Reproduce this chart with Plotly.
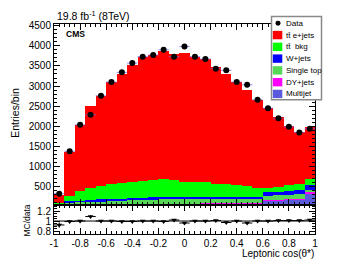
import numpy as np
import plotly.graph_objects as go

# ---------------- data ----------------
bin_edges = np.linspace(-1.0, 1.0, 26)
centers = 0.5 * (bin_edges[:-1] + bin_edges[1:])
bin_width = 0.08

data = [330, 1380, 2040, 2290, 2760, 3100, 3340, 3570, 3730, 3770, 3900, 3730, 3980,
        3730, 3670, 3430, 3390, 3100, 3030, 2660, 2450, 2200, 1990, 1850, 1940]
multijet = [70, 70, 70, 72, 72, 74, 74, 75, 75, 76, 76, 77, 77,
            78, 80, 82, 85, 88, 92, 95, 160, 170, 180, 190, 340]
dyjets = [3, 5, 5, 5, 6, 6, 6, 7, 7, 7, 8, 8, 8,
          8, 8, 9, 9, 10, 10, 10, 15, 15, 18, 20, 25]
singletop = [10, 40, 50, 60, 70, 80, 85, 90, 95, 100, 105, 110, 110,
             110, 110, 108, 105, 105, 100, 100, 110, 110, 110, 110, 60]
wjets = [10, 30, 35, 40, 40, 45, 45, 50, 50, 55, 55, 55, 55,
         55, 55, 55, 55, 55, 55, 55, 80, 85, 90, 95, 125]
ttbkg = [15, 122, 248, 297, 344, 368, 388, 401, 412, 426, 453, 414, 373,
         372, 357, 326, 306, 282, 263, 220, 115, 120, 142, 145, 150]
ttejets = [196, 1099, 1632, 2022, 2228, 2527, 2709, 2911, 3091, 3106, 3164, 3141, 3198,
           3107, 3060, 2884, 2728, 2560, 2389, 2180, 1970, 1722, 1470, 1309, 1279]

x_tickvals = [-1, -0.8, -0.6, -0.4, -0.2, 0, 0.2, 0.4, 0.6, 0.8, 1]
x_ticktext = ["-1", "-0.8", "-0.6", "-0.4", "-0.2", "0", "0.2", "0.4", "0.6", "0.8", "1"]
y_tickvals = [500, 1000, 1500, 2000, 2500, 3000, 3500, 4000, 4500]
r_tickvals = [0.8, 1.0, 1.2]
r_ticktext = ["0.8", "1", "1.2"]

legend_labels = ["Data", "tt\u0304 e+jets", "tt\u0304  bkg", "W+jets", "Single top", "DY+jets", "Multijet"]

# ---------------- styles ----------------
FONT = "Liberation Sans, Arial, Helvetica, sans-serif"
C_TTE = "#ff0000"
C_TTB = "#00ff00"
C_W = "#0000ff"
C_ST = "#55d855"
C_DY = "#ff00ff"
C_MJ = "#5a5adc"

W, H = 349, 262
L, R, T, B = 54, 34, 24, 27.5
PW, PH = W - L - R, H - T - B
def px(xpix):
    return (xpix - L) / PW
def py(ypix):
    return (H - B - ypix) / PH

split = (234.5 - 205) / PH

fig = go.Figure()

stack = [("Multijet", multijet, C_MJ), ("DY+jets", dyjets, C_DY), ("Single top", singletop, C_ST),
         ("W+jets", wjets, C_W), ("tt bkg", ttbkg, C_TTB), ("tt e+jets", ttejets, C_TTE)]
for name, vals, col in stack:
    fig.add_trace(go.Bar(x=centers, y=vals, width=bin_width, name=name,
                         marker=dict(color=col, line=dict(width=0)),
                         xaxis="x", yaxis="y", showlegend=False))

data_arr = np.array(data, dtype=float)
fig.add_trace(go.Scatter(x=centers, y=data, mode="markers", name="Data",
                         marker=dict(color="black", size=6, symbol="circle"),
                         error_x=dict(type="constant", value=bin_width / 2, thickness=1, width=0,
                                      color="rgba(110,110,240,0.75)"),
                         error_y=dict(type="data", array=np.sqrt(data_arr), thickness=1, width=0,
                                      color="black"),
                         xaxis="x", yaxis="y", showlegend=False))

mc_total = np.sum([np.array(v, dtype=float) for _, v, _ in stack], axis=0)
ratio = mc_total / data_arr
ratio_err = ratio * np.sqrt(1.0 / data_arr)
fig.add_trace(go.Scatter(x=centers, y=ratio, mode="markers", name="MC/data",
                         marker=dict(color="black", size=5, symbol="triangle-down"),
                         error_x=dict(type="constant", value=bin_width / 2, thickness=1, width=0, color="black"),
                         error_y=dict(type="data", array=ratio_err, thickness=1, width=0, color="black"),
                         xaxis="x2", yaxis="y2", showlegend=False))

axis_common = dict(showgrid=False, zeroline=False, showline=True, linecolor="black", linewidth=1,
                   ticks="inside", mirror="ticks", tickcolor="black", tickwidth=1,
                   tickfont=dict(family=FONT, size=10, color="black"))

fig.update_layout(
    width=W, height=H,
    margin=dict(l=L, r=R, t=T, b=B),
    paper_bgcolor="white", plot_bgcolor="white",
    barmode="stack", bargap=0,
    font=dict(family=FONT, color="black"),
    xaxis=dict(range=[-1, 1], domain=[0, 1], anchor="y", tickvals=x_tickvals, showticklabels=False,
               ticklen=6, minor=dict(ticks="inside", ticklen=3, dtick=0.04, tickcolor="black"),
               **{k: v for k, v in axis_common.items() if k != "tickfont"}),
    yaxis=dict(range=[60, 4540], domain=[split, 1], anchor="x", tickvals=y_tickvals, ticklen=6,
               minor=dict(ticks="inside", ticklen=3, dtick=100, tickcolor="black"), **axis_common),
    xaxis2=dict(range=[-1, 1], domain=[0, 1], anchor="y2", matches="x", tickvals=x_tickvals,
                ticktext=x_ticktext, ticklen=6,
                minor=dict(ticks="inside", ticklen=3, dtick=0.04, tickcolor="black"), **axis_common),
    yaxis2=dict(range=[0.74, 1.33], domain=[0, split], anchor="x2", tickvals=r_tickvals,
                ticktext=r_ticktext, ticklen=6,
                minor=dict(ticks="inside", ticklen=3, dtick=0.05, tickcolor="black"), **axis_common),
)

# unity line in ratio panel
fig.add_shape(type="line", xref="x2", yref="y2", x0=-1, x1=1, y0=1, y1=1,
              line=dict(color="black", width=1), layer="below")

ann = []
ann.append(dict(text="19.8 fb<sup>-1</sup> (8TeV)", x=px(55), y=py(15), xref="paper", yref="paper",
                xanchor="left", yanchor="middle", showarrow=False, font=dict(family=FONT, size=10.5)))
ann.append(dict(text="<b>CMS</b>", x=px(64), y=py(34), xref="paper", yref="paper",
                xanchor="left", yanchor="middle", showarrow=False, font=dict(family=FONT, size=8.5)))
ann.append(dict(text="Entries/bin", x=px(15), y=py(113), xref="paper", yref="paper", textangle=-90,
                xanchor="center", yanchor="middle", showarrow=False, font=dict(family=FONT, size=10.5)))
ann.append(dict(text="MC/data", x=px(27), y=py(221), xref="paper", yref="paper", textangle=-90,
                xanchor="center", yanchor="middle", showarrow=False, font=dict(family=FONT, size=8.5)))
ann.append(dict(text="Leptonic cos(\u03b8*)", x=px(316), y=py(254.5), xref="paper", yref="paper",
                xanchor="right", yanchor="middle", showarrow=False, font=dict(family=FONT, size=10)))

# manual ROOT-style legend
lx0, lx1, ly0, ly1 = 271.5, 321.5, 16.5, 100
fig.add_shape(type="rect", xref="paper", yref="paper", x0=px(lx0), x1=px(lx1), y0=py(ly1), y1=py(ly0),
              line=dict(color="#8a8a8a", width=1.5), fillcolor="white", layer="above")
leg_colors = [None, C_TTE, C_TTB, C_W, C_ST, C_DY, C_MJ]
for i, (lab, col) in enumerate(zip(legend_labels, leg_colors)):
    yc = 23.3 + i * 11.8
    if col is None:
        fig.add_shape(type="circle", xref="paper", yref="paper",
                      x0=px(275.5), x1=px(280.5), y0=py(yc + 2.5), y1=py(yc - 2.5),
                      fillcolor="black", line=dict(color="black", width=0), layer="above")
    else:
        fig.add_shape(type="rect", xref="paper", yref="paper",
                      x0=px(272.8), x1=px(282.3), y0=py(yc + 4.2), y1=py(yc - 4.2),
                      fillcolor=col, line=dict(width=0), layer="above")
    ann.append(dict(text=lab, x=px(283.5), y=py(yc), xref="paper", yref="paper",
                    xanchor="left", yanchor="middle", showarrow=False,
                    font=dict(family=FONT, size=8, color="black")))

fig.update_layout(annotations=ann)
fig.write_html("out.html", config={"displayModeBar": False},
               post_script="document.body.style.margin='0px';document.body.style.overflow='hidden';")
